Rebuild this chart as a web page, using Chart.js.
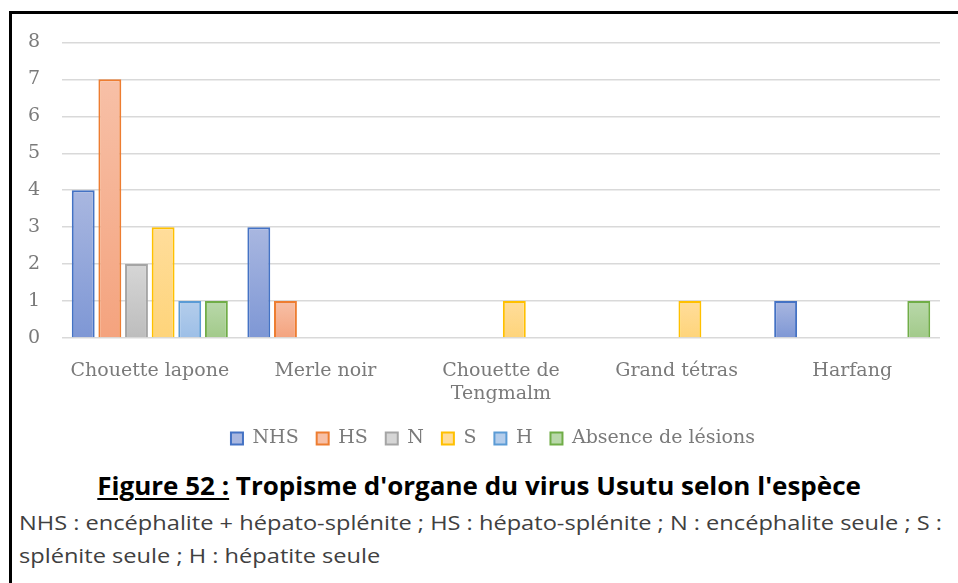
<!DOCTYPE html>
<html>
<head>
<meta charset="utf-8">
<script src="https://cdn.jsdelivr.net/npm/chart.js@4"></script>
<style>
  html, body { margin: 0; padding: 0; background: #fff; }
  body { width: 958px; height: 583px; position: relative; overflow: hidden; }
  .frame {
    position: absolute; left: 9px; top: 11px; width: 960px; height: 600px;
    border-left: 3px solid #000; border-top: 3px solid #000;
  }
  .plot { position: absolute; left: 12px; top: 9px; width: 946px; height: 450px; }
  .caption {
    position: absolute; left: 0; top: 468px; width: 958px; text-align: center;
    font-family: "Open Sans", sans-serif; font-weight: bold; font-size: 25px; color: #000;
    white-space: nowrap;
  }
  .caption span.inner { display: inline-block; transform: scaleX(1.04); }
  .caption u { text-underline-offset: 3px; text-decoration-thickness: 2px; }
  .note {
    position: absolute; left: 19px; top: 506px; width: 1100px;
    font-family: "Open Sans", sans-serif; font-size: 20px; line-height: 33px; color: #404040;
    transform: scaleX(1.18); transform-origin: 0 0; white-space: nowrap;
  }
</style>
</head>
<body>
<div class="frame"></div>
<div class="plot"><canvas id="tropismeChart"></canvas></div>
<div class="caption"><span class="inner"><u>Figure 52 :</u> Tropisme d'organe du virus Usutu selon l'espèce</span></div>
<div class="note">NHS : encéphalite + hépato-splénite ; HS : hépato-splénite ; N : encéphalite seule ; S :<br>splénite seule ; H : hépatite seule</div>
<script>
const especes = ['Chouette lapone', 'Merle noir', ['Chouette de', 'Tengmalm'], 'Grand tétras', 'Harfang'];
const lesions = ['NHS', 'HS', 'N', 'S', 'H', 'Absence de lésions'];

const nhs = [4, 3, 0, 0, 1];
const hs = [7, 1, 0, 0, 0];
const n = [2, 0, 0, 0, 0];
const s = [3, 0, 1, 1, 0];
const h = [1, 0, 0, 0, 0];
const absence = [1, 0, 0, 0, 1];

const yTicks = [0, 1, 2, 3, 4, 5, 6, 7, 8];

// border, gradient top, gradient bottom
const palette = [
  ['#4472c4', '#a9b7e0', '#7e97d5'],
  ['#ed7d31', '#f7c0a7', '#f4a37e'],
  ['#a5a5a5', '#d6d6d6', '#bdbdbd'],
  ['#ffc000', '#ffdd9b', '#fed47a'],
  ['#5b9bd5', '#b4cdeb', '#9dbfe7'],
  ['#70ad47', '#b9d8aa', '#a2ca8a'],
];

const textGrey = '#7a7a7a';
const serif = '"DejaVu Serif", "Liberation Serif", serif';

function barGradient(i) {
  return (ctx) => {
    const chart = ctx.chart;
    if (ctx.type !== 'data' || !chart.chartArea) return palette[i][1];
    const yScale = chart.scales.y;
    const top = yScale.getPixelForValue(ctx.parsed.y);
    const base = yScale.getPixelForValue(0);
    if (!(base > top)) return palette[i][1];
    const g = chart.ctx.createLinearGradient(0, top, 0, base);
    g.addColorStop(0, palette[i][1]);
    g.addColorStop(1, palette[i][2]);
    return g;
  };
}

// legend sits centred on the plot area rather than on the whole canvas
const legendShift = {
  id: 'legendShift',
  afterLayout(chart) {
    const lg = chart.legend;
    if (!lg) return;
    lg.left += 17;
    lg.right += 17;
  },
};

const series = [nhs, hs, n, s, h, absence];

const datasets = series.map((values, i) => ({
  label: lesions[i],
  data: values,
  backgroundColor: barGradient(i),
  borderColor: palette[i][0],
  borderWidth: 2,
  borderSkipped: 'bottom',
  categoryPercentage: 0.91,
  barPercentage: 0.86,
}));

const ctx = document.getElementById('tropismeChart').getContext('2d');

new Chart(ctx, {
  type: 'bar',
  data: { labels: especes, datasets },
  plugins: [legendShift],
  options: {
    responsive: true,
    maintainAspectRatio: false,
    animation: false,
    layout: { padding: { top: 0, right: 18, left: 0, bottom: 1 } },
    plugins: {
      tooltip: { enabled: false },
      legend: {
        position: 'bottom',
        labels: {
          color: textGrey,
          font: { family: serif, size: 19 },
          boxWidth: 12,
          boxHeight: 12,
          padding: 18,
          generateLabels: (chart) => chart.data.datasets.map((ds, i) => ({
            text: ds.label,
            fillStyle: palette[i][1],
            strokeStyle: palette[i][0],
            lineWidth: 2,
            fontColor: textGrey,
            datasetIndex: i,
            hidden: false,
          })),
        },
      },
    },
    scales: {
      x: {
        grid: { display: false },
        border: { display: false },
        ticks: { color: textGrey, font: { family: serif, size: 19 }, maxRotation: 0, padding: 14 },
        afterFit: (scale) => { scale.height = 73; },
      },
      y: {
        min: 0,
        max: 8,
        afterBuildTicks: (scale) => { scale.ticks = yTicks.map((v) => ({ value: v })); },
        grid: { color: '#d9d9d9', lineWidth: 1.5, drawTicks: false },
        border: { display: false },
        ticks: { color: textGrey, font: { family: serif, size: 19 }, padding: 22 },
        afterFit: (scale) => { scale.width = 50; },
      },
    },
  },
});
</script>
</body>
</html>
